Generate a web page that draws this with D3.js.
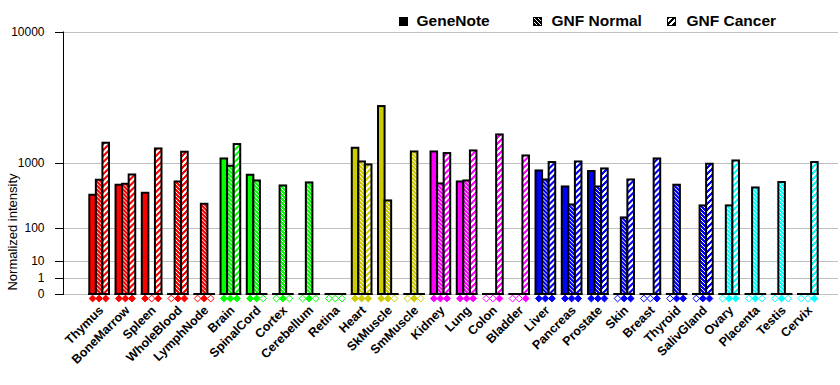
<!DOCTYPE html>
<html>
<head>
<meta charset="utf-8">
<script src="https://cdn.jsdelivr.net/npm/d3@7"></script>
<style>
  html, body { margin: 0; padding: 0; background: #fff; }
  svg { display: block; font-family: "Liberation Sans", Arial, sans-serif; }
</style>
</head>
<body>
<svg id="chart" width="840" height="385"></svg>
<script>
// ---- data ----
const categories = ["Thymus","BoneMarrow","Spleen","WholeBlood","LymphNode","Brain","SpinalCord","Cortex","Cerebellum","Retina","Heart","SkMuscle","SmMuscle","Kidney","Lung","Colon","Bladder","Liver","Pancreas","Prostate","Skin","Breast","Thyroid","SalivGland","Ovary","Placenta","Testis","Cervix"];
const systems = ["immune","immune","immune","immune","immune","neural","neural","neural","neural","neural","muscle","muscle","muscle","epithelial","epithelial","epithelial","epithelial","glandular","glandular","glandular","glandular","glandular","glandular","glandular","reproductive","reproductive","reproductive","reproductive"];
const seriesNames = ["GeneNote","GNF Normal","GNF Cancer"];
const geneNote  = [395, 544, 422, 0, 0, 1113, 727, 0, 0, 0, 1432, 3295, 0, 1315, 600, 0, 0, 818, 516, 805, 0, 0, 0, 0, 0, 0, 0, 0];
const gnfNormal = [631, 560, 0, 600, 288, 926, 618, 532, 583, 0, 1033, 325, 1315, 566, 618, 0, 0, 636, 281, 516, 167, 0, 544, 271, 271, 500, 590, 0];
const gnfCancer = [1602, 733, 1410, 1307, 0, 1556, 0, 0, 0, 0, 958, 0, 0, 1267, 1347, 1913, 1197, 1018, 1033, 863, 636, 1113, 0, 975, 1059, 0, 0, 1018];
// detection flags (filled diamond = 1, hollow = 0)
const geneNoteDetected  = [1,1,1,0,0,1,1,0,0,0,1,1,0,1,1,0,0,1,1,1,0,0,0,0,0,0,0,0];
const gnfNormalDetected = [1,1,0,1,1,1,1,1,1,0,1,1,1,1,1,0,0,1,1,1,1,0,1,1,1,1,1,0];
const gnfCancerDetected = [1,1,1,1,0,1,0,0,0,0,1,0,0,1,1,1,1,1,1,1,1,1,1,1,1,0,0,1];
const yTicks = [0, 1, 10, 100, 1000, 10000];
const yTitle = "Normalized intensity";

// ---- setup ----
const svg = d3.select("#chart");
const colorScale = d3.scaleOrdinal()
  .domain(["immune","neural","muscle","epithelial","glandular","reproductive"])
  .range(["#ff0000","#00ff00","#cccc00","#ff00ff","#0000ff","#00ffff"]);

const x = d3.scaleBand().domain(categories).range([89.3, 817.7]).paddingInner(0.25).paddingOuter(0);
const xSub = d3.scaleBand().domain(seriesNames).range([0, x.bandwidth()]);
const y = d3.scalePow().exponent(Math.log10(2)).domain([0, 10000]).range([294, 31.5]);

const seriesValues = [geneNote, gnfNormal, gnfCancer];
const seriesDetected = [geneNoteDetected, gnfNormalDetected, gnfCancerDetected];

// ---- patterns ----
const defs = svg.append("defs");
const colors = colorScale.range().concat(["#000000"]);
colors.forEach(c => {
  const id = c.slice(1);
  // GNF Normal: colour with thin white "\" lines
  const pn = defs.append("pattern").attr("id", "pn" + id).attr("patternUnits", "userSpaceOnUse")
    .attr("width", 4).attr("height", 4);
  pn.append("rect").attr("width", 4).attr("height", 4).attr("fill", c);
  for (let r = 0; r < 4; r++) {
    pn.append("rect").attr("x", r).attr("y", r).attr("width", 1).attr("height", 1).attr("fill", "#fff");
  }
  // GNF Cancer: white with colour "/" stripes
  const pc = defs.append("pattern").attr("id", "pc" + id).attr("patternUnits", "userSpaceOnUse")
    .attr("width", 6).attr("height", 6);
  pc.append("rect").attr("width", 6).attr("height", 6).attr("fill", "#fff");
  for (let r = 0; r < 6; r++) {
    for (let cc = 0; cc < 6; cc++) {
      if (((cc + r) % 6) < 3) {
        pc.append("rect").attr("x", cc).attr("y", r).attr("width", 1).attr("height", 1).attr("fill", c);
      }
    }
  }
});
function fillFor(si, c) {
  if (si === 0) return c;
  return "url(#" + (si === 1 ? "pn" : "pc") + c.slice(1) + ")";
}

// ---- gridlines ----
svg.append("g").selectAll("line").data(yTicks).join("line")
  .attr("x1", 63).attr("x2", 838)
  .attr("y1", d => Math.round(y(d)) + 0.5).attr("y2", d => Math.round(y(d)) + 0.5)
  .attr("stroke", "#c0c0c0").attr("stroke-width", 1).attr("shape-rendering", "crispEdges");

// ---- y axis ----
const yAxis = d3.axisLeft(y).tickValues(yTicks).tickSize(9).tickPadding(10).tickFormat(d3.format("d"));
const yg = svg.append("g").attr("transform", "translate(63.5,0)").call(yAxis);
yg.select(".domain").attr("stroke", "#000").attr("d", "M0," + y(10000) + "V" + (y(0)+0.5));
yg.selectAll(".tick line").attr("stroke", "#000").attr("shape-rendering", "crispEdges");
yg.selectAll(".tick text").attr("font-size", 12).attr("fill", "#000")
  .attr("font-family", "'Liberation Sans', Arial, sans-serif");
yg.selectAll(".tick").attr("transform", d => "translate(0," + (Math.round(y(d)) + 0.5) + ")");

svg.append("text").attr("transform", "translate(17,232) rotate(-90)")
  .attr("text-anchor", "middle").attr("font-size", 13).attr("fill", "#000").text(yTitle);

// ---- bars ----
const groups = svg.append("g").selectAll("g").data(categories).join("g")
  .attr("transform", d => "translate(" + x(d) + ",0)");

groups.each(function(cat, i) {
  const g = d3.select(this);
  const col = colorScale(systems[i]);
  seriesNames.forEach((s, si) => {
    const v = seriesValues[si][i];
    if (v > 0) {
      g.append("rect")
        .attr("x", xSub(s)).attr("width", xSub.bandwidth())
        .attr("y", y(v)).attr("height", y(0) - y(v))
        .attr("fill", fillFor(si, col)).attr("stroke", "#000").attr("stroke-width", 2);
    }
  });
  g.append("line").attr("x1", -1).attr("x2", x.bandwidth() + 1)
    .attr("y1", y(0)).attr("y2", y(0)).attr("stroke", "#000").attr("stroke-width", 2);
  // diamonds
  seriesNames.forEach((s, si) => {
    const cx = xSub(s) + xSub.bandwidth() / 2;
    const cy = 298.5;
    const r = 3.4;
    const filled = seriesDetected[si][i] === 1;
    g.append("path")
      .attr("d", `M${cx},${cy - r}L${cx + r},${cy}L${cx},${cy + r}L${cx - r},${cy}Z`)
      .attr("fill", filled ? col : "#fff")
      .attr("stroke", col).attr("stroke-width", 1);
  });
});

// ---- category labels ----
svg.append("g").selectAll("text").data(categories).join("text")
  .attr("transform", d => "translate(" + (x(d) + x.bandwidth() / 2 + 5) + ",311) rotate(-45)")
  .attr("text-anchor", "end").attr("font-size", 12.5).attr("font-weight", "bold")
  .attr("fill", "#000").text(d => d);

// ---- legend ----
const legendItems = [
  { name: seriesNames[0], sx: 399, tx: 416.5, si: 0 },
  { name: seriesNames[1], sx: 533, tx: 551.5, si: 1 },
  { name: seriesNames[2], sx: 667, tx: 686.5, si: 2 }
];
const lg = svg.append("g").selectAll("g").data(legendItems).join("g");
lg.append("rect").attr("x", d => d.sx + 0.5).attr("y", 17.5).attr("width", 8).attr("height", 8)
  .attr("fill", d => fillFor(d.si, "#000000")).attr("stroke", "#000").attr("stroke-width", 1);
lg.append("text").attr("x", d => d.tx).attr("y", 26).attr("font-size", 15.5).attr("font-weight", "bold")
  .attr("fill", "#000").text(d => d.name);
</script>
</body>
</html>
